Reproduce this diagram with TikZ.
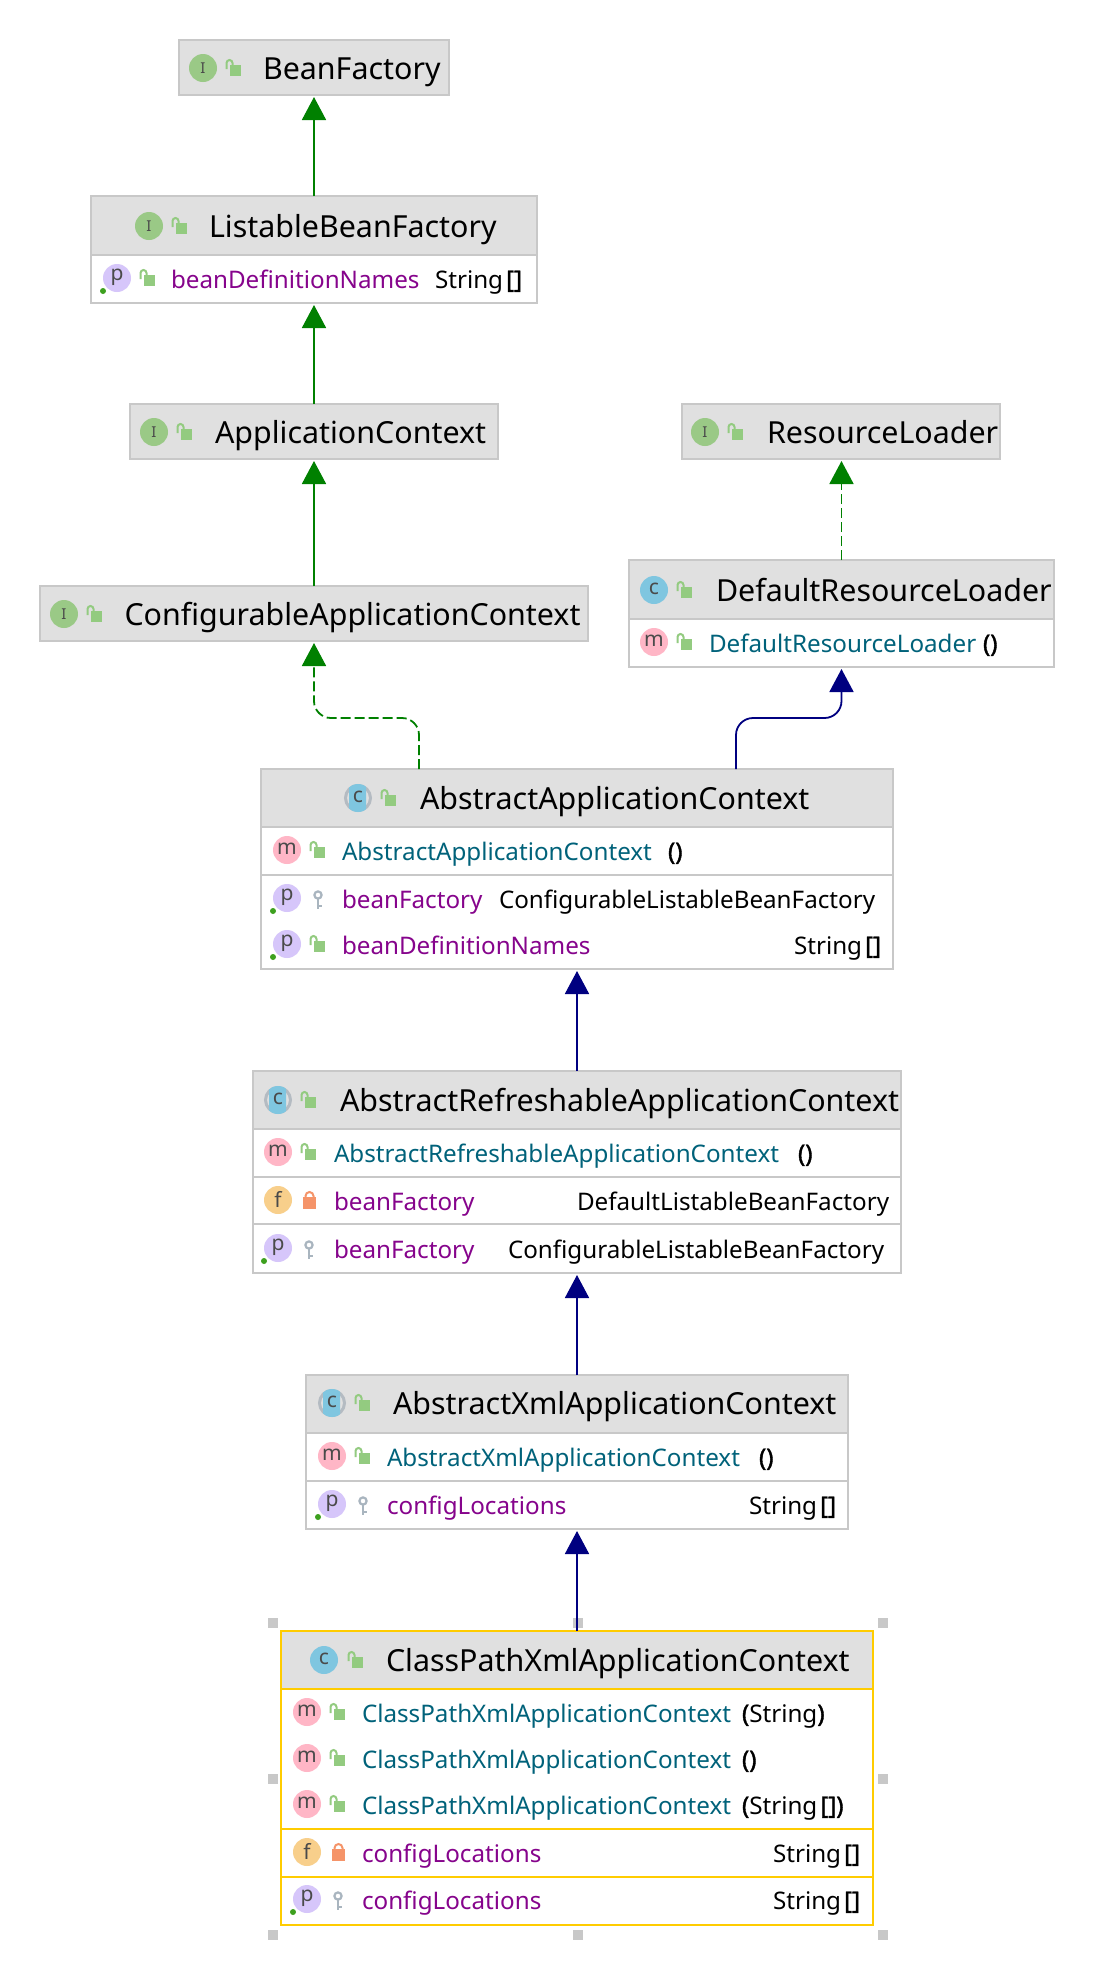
\documentclass[tikz,border=0pt]{standalone}
\usepackage{fontspec}
\setmainfont{Noto Sans}
\newfontfamily\brkfont[FakeBold=1.6]{Noto Sans}
\usetikzlibrary{arrows.meta,calc}
\definecolor{hdr}{HTML}{E0E0E0}
\definecolor{bord}{HTML}{C8C8C8}
\definecolor{ring}{HTML}{B4BBC2}
\definecolor{sel}{HTML}{FFCC00}
\definecolor{cI}{HTML}{9AC986}
\definecolor{cC}{HTML}{7FC6E0}
\definecolor{cM}{HTML}{FFB6C6}
\definecolor{cP}{HTML}{D6C6FA}
\definecolor{cF}{HTML}{F8CF8B}
\definecolor{lockg}{HTML}{93CB80}
\definecolor{locko}{HTML}{F59469}
\definecolor{keyg}{HTML}{A9B5BF}
\definecolor{dotg}{HTML}{3DA01E}
\definecolor{purp}{HTML}{86048C}
\definecolor{teal}{HTML}{00627A}
\definecolor{gen}{HTML}{008000}
\definecolor{ext}{HTML}{000080}
\definecolor{glyph}{HTML}{4A4A4A}
\newcounter{nn}
\tikzset{
  boxst/.style={draw=bord,line width=1.6pt,fill=white,inner sep=0pt,outer sep=0pt,anchor=north west},
  headst/.style={fill=hdr,inner sep=0pt,outer sep=0pt,anchor=north west},
  sepl/.style={draw=bord,line width=2pt},
  seply/.style={draw=sel,line width=2pt},
  titlest/.style={font=\fontsize{30.4pt}{31pt}\selectfont,anchor=base west,inner sep=0pt,outer sep=0pt,text=black},
  rowst/.style={font=\fontsize{24.2pt}{25pt}\selectfont,anchor=base west,inner sep=0pt,outer sep=0pt},
  iconst/.style={circle,inner sep=0pt,outer sep=0pt,minimum size=28pt},
  ltr/.style={font=\fontsize{21pt}{21pt}\selectfont,text=glyph,inner sep=0pt},
  genl/.style={draw=gen,line width=1.8pt,-{Triangle[length=23pt,width=24pt,fill=gen]},shorten >=2pt},
  extl/.style={draw=ext,line width=1.8pt,-{Triangle[length=23pt,width=24pt,fill=ext]},shorten >=2pt},
  dash1/.style={dash pattern=on 10pt off 4pt},
  handle/.style={fill=bord,inner sep=0pt,outer sep=0pt,minimum size=10pt}
}
% class box: name x1 y1 x2 y2 headerbottom
\newcommand{\classbox}[7][bord]{%
  \node[boxst,draw=#1,minimum width={#5pt-#3pt},minimum height={#6pt-#4pt}] (#2) at (#3,#4) {};
  \node[headst,minimum width={#5pt-#3pt},minimum height={#7pt-#4pt}] (#2h) at (#3,#4) {};
  \draw[draw=#1,line width=1.6pt] (#3,#4) rectangle (#5,#6);
}
\newcommand{\mysep}[4][sepl]{\draw[#1] (#2,#4) -- (#3,#4);}
\newcommand{\ttl}[2]{\stepcounter{nn}\node[titlest] (t\thenn) at (#1) {#2};}
\newcommand{\nm}[3]{\stepcounter{nn}\node[rowst,text=#1] (t\thenn) at (#2) {#3};}
% icons
\newcommand{\ico}[4]{\stepcounter{nn}\node[iconst,fill=#1] (i\thenn) at (#2,#3) {};
  \node[ltr] (l\thenn) at (#2,#3-1) {#4};}
\newcommand{\icoI}[2]{\stepcounter{nn}\node[iconst,fill=cI] (i\thenn) at (#1,#2) {};
  \node[ltr,font=\fontsize{15pt}{15pt}\selectfont\bfseries] (l\thenn) at (#1,#2) {I};}
\newcommand{\icoA}[2]{\stepcounter{nn}
  \draw[ring,line width=3pt] (#1,#2) circle (12.5pt);
  \begin{scope}\clip (#1-9,#2-15) rectangle (#1+8,#2+15);
    \node[iconst,fill=cC] (i\thenn) at (#1,#2) {};
  \end{scope}
  \node[ltr] (l\thenn) at (#1,#2-1) {c};}
\newcommand{\lockO}[2]{%
  \fill[lockg] (#1-3,#2-3) rectangle (#1+8,#2+8);
  \draw[lockg,line width=2pt] (#1-6.5,#2+1) -- (#1-6.5,#2-5) arc[start angle=180,end angle=0,radius=3pt] -- (#1-0.5,#2-2);}
\newcommand{\lockC}[2]{%
  \fill[locko] (#1-5,#2-3) rectangle (#1+8,#2+9);
  \draw[locko,line width=2pt] (#1-2.5,#2-3) -- (#1-2.5,#2-4) arc[start angle=180,end angle=0,radius=4pt] -- (#1+5.5,#2-3);}
\newcommand{\keyi}[2]{%
  \draw[keyg,line width=2.2pt] (#1+1,#2-3) circle (3.6pt);
  \draw[keyg,line width=2.6pt] (#1+1,#2+1) -- (#1+1,#2+11);
  \draw[keyg,line width=2pt] (#1+1,#2+8) -- (#1+5,#2+8);}
\newcommand{\pdot}[2]{\fill[dotg] (#1-14,#2+13) circle (3pt);}
\newcommand{\icoP}[2]{\ico{cP}{#1}{#2}{p}\pdot{#1}{#2}}
\newcommand{\icoM}[2]{\ico{cM}{#1}{#2}{m}}
\newcommand{\icoF}[2]{\ico{cF}{#1}{#2}{f}}
\newcommand{\brk}[1]{{\brkfont #1}}
\newcommand{\strs}{String\hspace{3pt}\brk{[]}}
\begin{document}
\begin{tikzpicture}[x=1pt,y=-1pt]
\useasboundingbox[fill=white] (0,0) rectangle (1094,1966);
% BeanFactory
\classbox{bf}{179}{40}{449}{95}{95}
\icoI{203}{68}\lockO{233}{68}\ttl{263,79}{BeanFactory}
% ListableBeanFactory
\classbox{lbf}{91}{196}{537}{303}{255}
\mysep{91}{537}{255}
\icoI{149}{226}\lockO{179}{226}\ttl{209,237}{ListableBeanFactory}
\icoP{117}{278}\lockO{147}{278}\nm{purp}{171,288}{beanDefinitionNames}\nm{black}{435,288}{\strs}
% ApplicationContext
\classbox{ac}{130}{404}{498}{459}{459}
\icoI{154}{432}\lockO{184}{432}\ttl{215,443}{ApplicationContext}
% ResourceLoader
\classbox{rl}{682}{404}{1000}{459}{459}
\icoI{705}{432}\lockO{735}{432}\ttl{767,443}{ResourceLoader}
% Configurable
\classbox{cac}{40}{586}{588}{641}{641}
\icoI{64}{614}\lockO{94}{614}\ttl{124.5,625}{ConfigurableApplicationContext}
% DefaultResourceLoader
\classbox{drl}{629}{560}{1054}{667}{619}
\mysep{629}{1054}{619}
\ico{cC}{654}{590}{c}\lockO{684}{590}\ttl{716,601}{DefaultResourceLoader}
\icoM{654}{642}\lockO{684}{642}\nm{teal}{709,652}{DefaultResourceLoader}\nm{black}{983,652}{\brk{()}}
% AbstractApplicationContext
\classbox{aac}{261}{769}{893}{969}{827}
\mysep{261}{893}{827}\mysep{261}{893}{875}
\icoA{358}{798}\lockO{388}{798}\ttl{420,809}{AbstractApplicationContext}
\icoM{287}{850}\lockO{317}{850}\nm{teal}{342,860}{AbstractApplicationContext}\nm{black}{668,860}{\brk{()}}
\icoP{287}{898}\keyi{317}{898}\nm{purp}{342,908}{beanFactory}\nm{black}{499,908}{ConfigurableListableBeanFactory}
\icoP{287}{944}\lockO{317}{944}\nm{purp}{342,954}{beanDefinitionNames}\nm{black}{794,954}{\strs}
% AbstractRefreshable
\classbox{arac}{253}{1071}{901}{1273}{1129}
\mysep{253}{901}{1129}\mysep{253}{901}{1177}\mysep{253}{901}{1224}
\icoA{278}{1100}\lockO{308}{1100}\ttl{340,1111}{AbstractRefreshableApplicationContext}
\icoM{278}{1152}\lockO{308}{1152}\nm{teal}{334,1162}{AbstractRefreshableApplicationContext}\nm{black}{798,1162}{\brk{()}}
\icoF{278}{1200}\lockC{308}{1200}\nm{purp}{334,1210}{beanFactory}\nm{black}{577,1210}{DefaultListableBeanFactory}
\icoP{278}{1248}\keyi{308}{1248}\nm{purp}{334,1258}{beanFactory}\nm{black}{508,1258}{ConfigurableListableBeanFactory}
% AbstractXml
\classbox{axac}{306}{1375}{848}{1529}{1433}
\mysep{306}{848}{1433}\mysep{306}{848}{1481}
\icoA{332}{1403}\lockO{362}{1403}\ttl{393,1414}{AbstractXmlApplicationContext}
\icoM{332}{1456}\lockO{362}{1456}\nm{teal}{387,1466}{AbstractXmlApplicationContext}\nm{black}{759,1466}{\brk{()}}
\icoP{332}{1504}\keyi{362}{1504}\nm{purp}{387,1514}{configLocations}\nm{black}{749,1514}{\strs}
% handles
\node[handle] (h1) at (273,1623) {};
\node[handle] (h2) at (578,1623) {};
\node[handle] (h3) at (883,1623) {};
\node[handle] (h4) at (273,1779) {};
\node[handle] (h5) at (883,1779) {};
\node[handle] (h6) at (273,1935) {};
\node[handle] (h7) at (578,1935) {};
\node[handle] (h8) at (883,1935) {};
% ClassPathXml
\classbox[sel]{cpx}{281}{1631}{873}{1925}{1689}
\mysep[seply]{281}{873}{1689}\mysep[seply]{281}{873}{1829}\mysep[seply]{281}{873}{1877}
\ico{cC}{324}{1660}{c}\lockO{355}{1660}\ttl{386,1671}{ClassPathXmlApplicationContext}
\icoM{307}{1712}\lockO{337}{1712}\nm{teal}{362,1722}{ClassPathXmlApplicationContext}\nm{black}{742,1722}{\brk{(}String\brk{)}}
\icoM{307}{1758}\lockO{337}{1758}\nm{teal}{362,1768}{ClassPathXmlApplicationContext}\nm{black}{742,1768}{\brk{()}}
\icoM{307}{1804}\lockO{337}{1804}\nm{teal}{362,1814}{ClassPathXmlApplicationContext}\nm{black}{742,1814}{\brk{(}String\hspace{3pt}\brk{[])}}
\icoF{307}{1852}\lockC{337}{1852}\nm{purp}{362,1862}{configLocations}\nm{black}{773,1862}{\strs}
\icoP{307}{1899}\keyi{337}{1899}\nm{purp}{362,1909}{configLocations}\nm{black}{773,1909}{\strs}
% connectors
\coordinate (a1) at (419,769);
\coordinate (a2) at (736,769);
\coordinate (a1m) at (419,718);
\coordinate (a2m) at (736,718);
\draw[genl] (lbf.north) -- (lbf.north |- bf.south);
\draw[genl] (ac.north) -- (ac.north |- lbf.south);
\draw[genl] (cac.north) -- (cac.north |- ac.south);
\draw[genl,dash1] (drl.north) -- (drl.north |- rl.south);
\draw[genl,dash1,rounded corners=17pt] (a1) -- (a1m) -- (a1m -| cac.south) -- (cac.south);
\draw[extl,rounded corners=17pt] (a2) -- (a2m) -- (a2m -| drl.south) -- (drl.south);
\draw[extl] (arac.north) -- (arac.north |- aac.south);
\draw[extl] (axac.north) -- (axac.north |- arac.south);
\draw[extl] (cpx.north) -- (cpx.north |- axac.south);
\end{tikzpicture}
\end{document}
